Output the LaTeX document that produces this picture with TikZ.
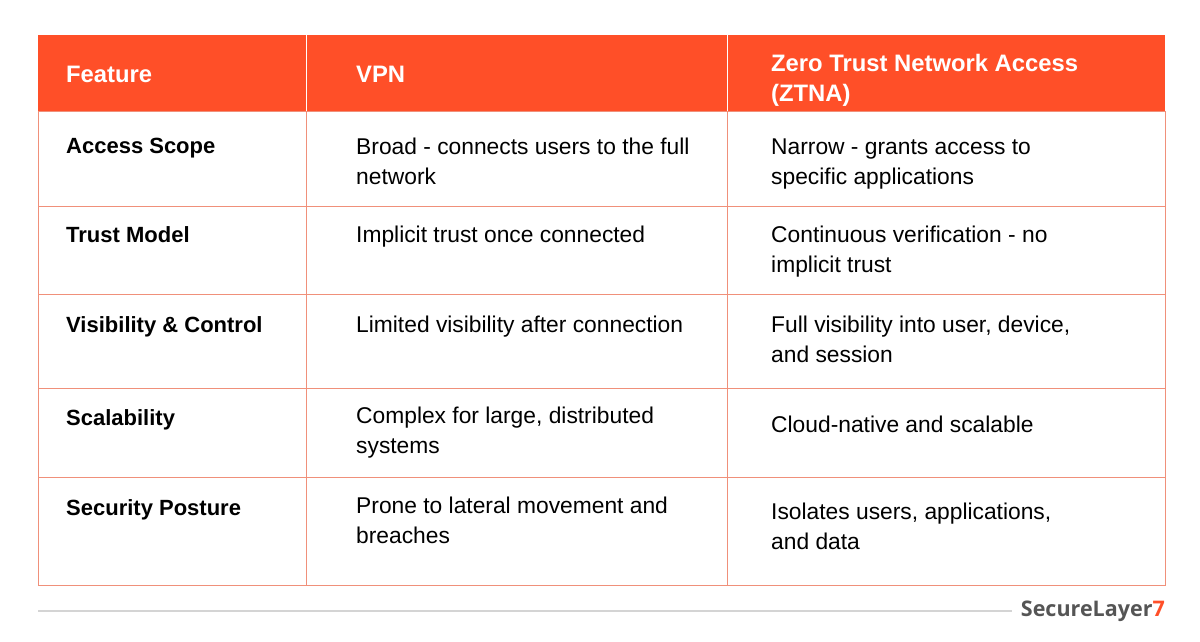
\documentclass[tikz,border=0pt]{standalone}
\usepackage{fontspec}
\setmainfont{Liberation Sans}
\newfontfamily\logofont{Open Sans}
\definecolor{hdr}{HTML}{FF4F28}
\definecolor{grid}{HTML}{F0907A}
\definecolor{foot}{HTML}{D4D4D4}
\definecolor{logogray}{HTML}{555555}
\begin{document}
\begin{tikzpicture}[x=1pt,y=-1pt,
  txt/.style={anchor=base west,inner sep=0pt,font=\fontsize{22.8}{24}\selectfont},
  bt/.style={txt,font=\fontsize{22}{24}\selectfont\bfseries},
  ht/.style={txt,text=white,font=\fontsize{23.8}{24}\selectfont\bfseries}]
\useasboundingbox (0,0) rectangle (1200,642);
\fill[hdr] (38,35) rectangle (1165,111);
\draw[grid,line width=1pt] (38,111) rectangle (1165,585);
\foreach \y in {206,294,388,477} \draw[grid,line width=1pt] (38,\y) -- (1165,\y);
\draw[grid,line width=1pt] (306,111) -- (306,585);
\draw[grid,line width=1pt] (727,111) -- (727,585);
\draw[white,line width=1pt] (306,35) -- (306,111);
\draw[white,line width=1pt] (727,35) -- (727,111);
% header
\node[ht] (h1) at (66,83) {Feature};
\node[ht] (h2) at (356,83) {VPN};
\node[ht] (h3a) at (771,71) {Zero Trust Network Access};
\node[ht] (h3b) at (771,101) {(ZTNA)};
% rows
\node[bt] (r1) at (66,153) {Access Scope};
\node[txt] (v1a) at (356,154) {Broad - connects users to the full};
\node[txt] (v1b) at (356,184) {network};
\node[txt] (z1a) at (771,154) {Narrow - grants access to};
\node[txt] (z1b) at (771,184) {specific applications};
\node[bt] (r2) at (66,242) {Trust Model};
\node[txt] (v2a) at (356,242) {Implicit trust once connected};
\node[txt] (z2a) at (771,242) {Continuous verification - no};
\node[txt] (z2b) at (771,272) {implicit trust};
\node[bt] (r3) at (66,332) {Visibility \& Control};
\node[txt] (v3a) at (356,332) {Limited visibility after connection};
\node[txt] (z3a) at (771,332) {Full visibility into user, device,};
\node[txt] (z3b) at (771,362) {and session};
\node[bt] (r4) at (66,425) {Scalability};
\node[txt] (v4a) at (356,423) {Complex for large, distributed};
\node[txt] (v4b) at (356,453) {systems};
\node[txt] (z4a) at (771,432) {Cloud-native and scalable};
\node[bt] (r5) at (66,515) {Security Posture};
\node[txt] (v5a) at (356,513) {Prone to lateral movement and};
\node[txt] (v5b) at (356,543) {breaches};
\node[txt] (z5a) at (771,519) {Isolates users, applications,};
\node[txt] (z5b) at (771,549) {and data};
% footer
\draw[foot,line width=2pt] (38,611) -- (1012,611);
\node[anchor=east,inner sep=0pt,font=\logofont\fontsize{21.5}{24}\selectfont\bfseries,text=logogray] (logo) at (1165,611) {SecureLayer\textcolor{hdr}{7}};
\end{tikzpicture}
\end{document}
